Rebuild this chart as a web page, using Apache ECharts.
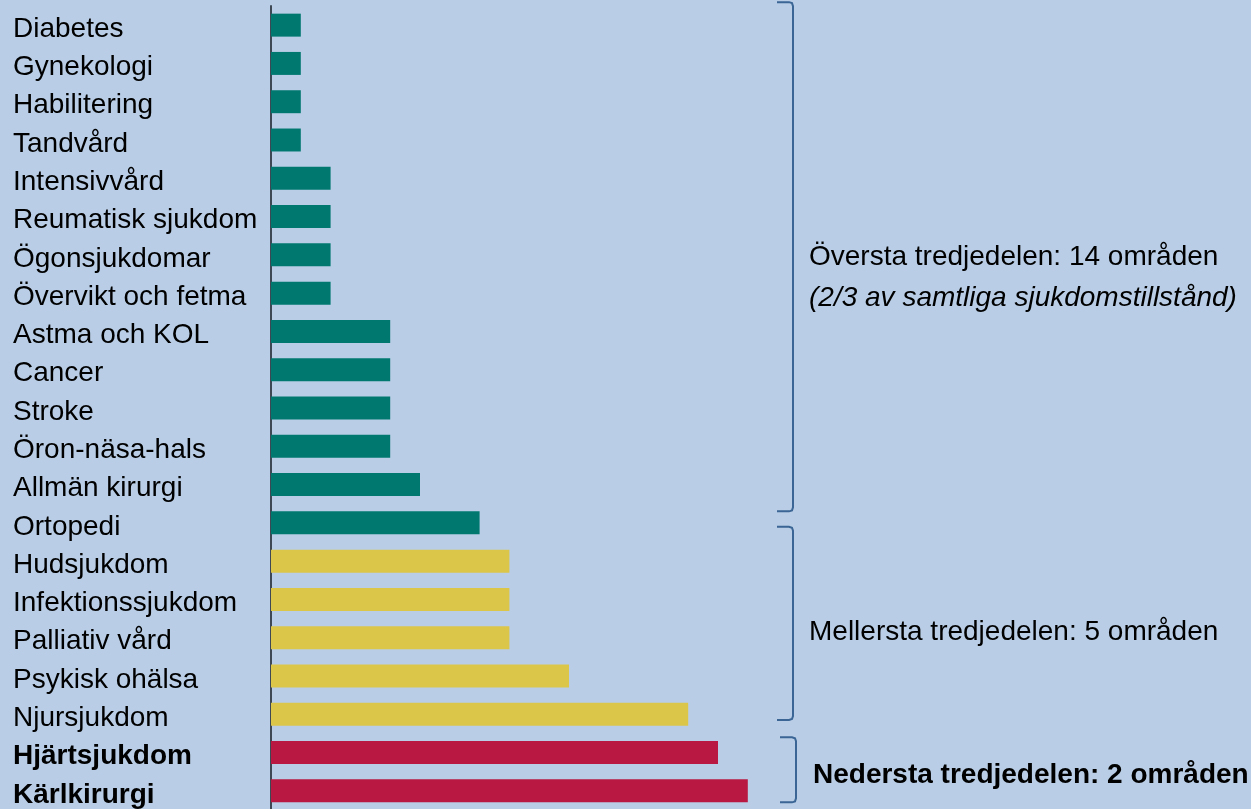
<!DOCTYPE html>
<html>
<head>
<meta charset="utf-8">
<script src="https://cdn.jsdelivr.net/npm/echarts@6/dist/echarts.min.js"></script>
<style>
  html, body { margin: 0; padding: 0; background: #b9cee6; }
  #chart { width: 1251px; height: 809px; }
</style>
</head>
<body>
<div id="chart"></div>
<script>
// data
var categories = ['Diabetes', 'Gynekologi', 'Habilitering', 'Tandvård', 'Intensivvård',
    'Reumatisk sjukdom', 'Ögonsjukdomar', 'Övervikt och fetma', 'Astma och KOL', 'Cancer',
    'Stroke', 'Öron-näsa-hals', 'Allmän kirurgi', 'Ortopedi', 'Hudsjukdom',
    'Infektionssjukdom', 'Palliativ vård', 'Psykisk ohälsa', 'Njursjukdom',
    'Hjärtsjukdom', 'Kärlkirurgi'];
var values = [1, 1, 1, 1, 2, 2, 2, 2, 4, 4, 4, 4, 5, 7, 8, 8, 8, 10, 14, 15, 16];
// which third each area belongs to
var groups = ['top', 'top', 'top', 'top', 'top', 'top', 'top', 'top', 'top', 'top',
    'top', 'top', 'top', 'top', 'mid', 'mid', 'mid', 'mid', 'mid', 'low', 'low'];
var groupLabels = {
    top: ['Översta tredjedelen: 14 områden', '(2/3 av samtliga sjukdomstillstånd)'],
    mid: ['Mellersta tredjedelen: 5 områden'],
    low: ['Nedersta tredjedelen: 2 områden']
};

var colors = { top: '#007870', mid: '#dcc64a', low: '#b81842' };
var font = '"Liberation Sans", Arial, sans-serif';

var chart = echarts.init(document.getElementById('chart'));

var yData = categories.map(function (c, i) {
    var item = { value: c };
    if (groups[i] === 'low') {
        item.textStyle = { fontWeight: 'bold', align: 'left', verticalAlign: 'top', lineHeight: 8 };
    }
    return item;
});
var barData = values.map(function (v, i) {
    return { value: v, itemStyle: { color: colors[groups[i]] } };
});

chart.setOption({
    backgroundColor: '#b9cee6',
    animation: false,
    grid: {
        left: 271, top: 6, width: 894, height: 804,
        containLabel: false, outerBoundsMode: 'none'
    },
    xAxis: {
        type: 'value', min: 0, max: 30, show: false
    },
    yAxis: {
        type: 'category',
        inverse: true,
        data: yData,
        axisLine: { show: true, lineStyle: { color: '#3e4854', width: 2 } },
        axisTick: { show: false },
        axisLabel: {
            align: 'left', margin: 258, fontSize: 28, color: '#000',
            fontFamily: font, verticalAlign: 'top', lineHeight: 8
        }
    },
    series: [{
        type: 'bar',
        data: barData,
        barWidth: '60%'
    }]
});

// brackets and group texts, placed from the category positions
function yAt(idx) {
    var i = Math.min(Math.floor(idx), categories.length - 2);
    var a = chart.convertToPixel({ yAxisIndex: 0 }, i);
    var b = chart.convertToPixel({ yAxisIndex: 0 }, i + 1);
    return a + (idx - i) * (b - a);
}
function bracket(x, y1, y2) {
    var hook = 16, r = 4;
    return {
        type: 'polyline',
        shape: {
            points: [[x - hook, y1], [x - r, y1], [x - 1, y1 + 1], [x, y1 + r],
                [x, y2 - r], [x - 1, y2 - 1], [x - r, y2], [x - hook, y2]]
        },
        style: { fill: null, stroke: '#3a6595', lineWidth: 2 }
    };
}
var graphics = [
    bracket(793, yAt(0) - 23, yAt(12.7)),
    bracket(793, yAt(13.1), yAt(18.15)),
    bracket(796, yAt(18.6), yAt(20.3)),
    {
        type: 'text', left: 809, top: yAt(6.05) - 13,
        style: { text: groupLabels.top[0], font: '28px ' + font, fill: '#000' }
    },
    {
        type: 'text', left: 809, top: yAt(7.1) - 13,
        style: { text: groupLabels.top[1], font: 'italic 28px ' + font, fill: '#000' }
    },
    {
        type: 'text', left: 809, top: yAt(15.75) - 10,
        style: { text: groupLabels.mid[0], font: '28px ' + font, fill: '#000' }
    },
    {
        type: 'text', left: 813, top: yAt(19.5) - 10,
        style: { text: groupLabels.low[0], font: 'bold 28px ' + font, fill: '#000' }
    }
];
chart.setOption({ graphic: graphics });
</script>
</body>
</html>
